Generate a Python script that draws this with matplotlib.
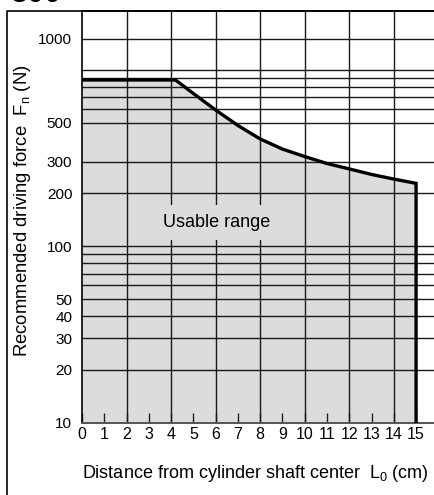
import matplotlib.pyplot as plt
from matplotlib.lines import Line2D

plt.rcParams['font.family'] = ['Liberation Sans', 'DejaVu Sans']

# Usable range boundary (distance in cm, force in N)
dist_cm = [0, 4.2, 5, 6, 7, 8, 9, 10, 11, 12, 13, 14, 15, 15]
force_n = [874, 874, 733, 591, 483, 405, 355, 322, 294, 274, 255, 240, 227, 10]

x_ticks = list(range(0, 16))
x_grid = [2, 4, 6, 8, 10, 12, 14]
y_label_pos = [10, 20, 30, 40, 50, 100, 200, 300, 500, 1500]
y_labels = ["10", "20", "30", "40", "50", "100", "200", "300", "500", "1000"]
y_minor = [60, 70, 80, 90, 600, 700, 800, 900, 1000]

fig = plt.figure(figsize=(4.35, 4.95), dpi=100)
ax = fig.add_axes([82 / 435, 1 - 422.7 / 495, 1 - 82 / 435, (422.7 - 11) / 495])

ax.fill_between(dist_cm, force_n, 10, color="#dcdcdc", lw=0, zorder=1)
ax.plot(dist_cm, force_n, color="black", lw=2.4, solid_joinstyle="miter", zorder=3)

ax.set_yscale("log")
ax.set_ylim(10, 2150)
ax.set_xlim(0, 15.85)

ax.xaxis.remove_overlapping_locs = False
ax.set_xticks(x_ticks)
ax.set_xticks(x_grid, minor=True)
ax.tick_params(axis="x", which="major", direction="in", length=7, width=1,
               color="#222222", labelsize=11.5, pad=3)
ax.tick_params(axis="x", which="minor", length=0)

ax.set_yticks(y_label_pos)
ax.set_yticklabels(y_labels)
ax.set_yticks(y_minor, minor=True)
ax.yaxis.set_minor_formatter(plt.NullFormatter())
ax.tick_params(axis="y", which="both", length=0, labelsize=11, pad=7)

ax.grid(True, axis="x", which="minor", color="#1a1a1a", lw=1.0)
ax.grid(True, axis="y", which="both", color="#1a1a1a", lw=1.0)

ax.spines["right"].set_visible(False)
ax.spines["left"].set_linewidth(1.2)
ax.spines["top"].set_linewidth(1.2)
ax.spines["bottom"].set_color("#555555")
ax.spines["bottom"].set_linewidth(1.4)

ax.text(6.04, 136, "Usable range", fontsize=13, ha="center", va="center", zorder=4,
        bbox=dict(boxstyle="square,pad=0.5", facecolor="#dcdcdc", edgecolor="none"))

# outer frame
fig.add_artist(Line2D([7 / 435, 7 / 435, 1], [0, 1 - 11 / 495, 1 - 11 / 495],
                      transform=fig.transFigure, color="black", lw=1.2))

fig.text(23 / 435, 1 - 211 / 495, r"Recommended driving force  F$_\mathregular{n}$ (N)",
         rotation=90, ha="center", va="center", fontsize=13.3)
fig.text(255 / 435, 1 - 474 / 495, r"Distance from cylinder shaft center  L$_\mathregular{0}$ (cm)",
         ha="center", va="center", fontsize=13)

# cropped heading at the very top
fig.text(10 / 435, 1 - 2.5 / 495, "300", fontsize=22, fontweight="bold",
         ha="left", va="baseline")

fig.savefig("out.png", dpi=100)
